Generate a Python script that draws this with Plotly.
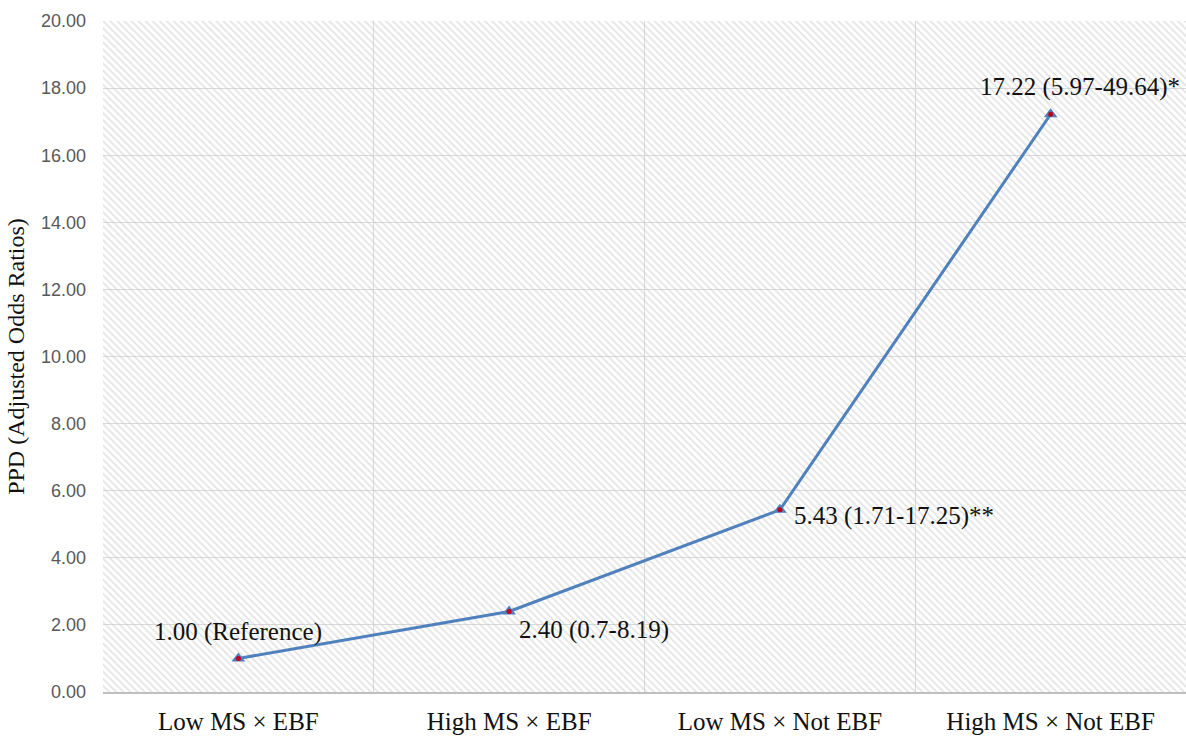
import plotly.graph_objects as go

categories = ["Low MS × EBF", "High MS × EBF", "Low MS × Not EBF", "High MS × Not EBF"]
odds_ratios = [1.00, 2.40, 5.43, 17.22]
labels = ["1.00 (Reference)", "2.40 (0.7-8.19)", "5.43 (1.71-17.25)**", "17.22 (5.97-49.64)*"]
y_max = 20
y_step = 2

xs = list(range(len(categories)))
serif = "Liberation Serif, Times New Roman, serif"

fig = go.Figure()

# hatched plot-area background
fig.add_trace(go.Bar(
    x=xs, y=[y_max] * len(xs), width=1,
    marker=dict(color="rgba(0,0,0,0)", line=dict(width=0),
                pattern=dict(shape="\\", fgcolor="#cacaca", bgcolor="rgba(0,0,0,0)",
                             size=5, solidity=0.35)),
    hoverinfo="skip", showlegend=False,
))

fig.add_trace(go.Scatter(
    x=xs, y=odds_ratios, mode="lines+markers",
    line=dict(color="#4F81BD", width=3),
    marker=dict(symbol="triangle-up", size=12, color="#4F81BD"),
    showlegend=False,
))
fig.add_trace(go.Scatter(
    x=xs, y=odds_ratios, mode="markers",
    marker=dict(symbol="circle", size=5, color="#C0001A"),
    showlegend=False, hoverinfo="skip",
))

# label placement per point
anchors = [("center", 0, 26), ("left", 8, -19), ("left", 12, -6), ("right", 131, 27)]
for x, y, t, (xa, dx, dy) in zip(xs, odds_ratios, labels, anchors):
    fig.add_annotation(x=x, y=y, text=t, showarrow=False, xanchor=xa, yanchor="middle",
                       xshift=dx, yshift=dy, font=dict(family=serif, size=25, color="#111111"))

fig.update_layout(
    width=1186, height=736,
    margin=dict(l=103, r=0, t=21, b=44),
    paper_bgcolor="white", plot_bgcolor="white",
    bargap=0,
)
fig.update_xaxes(
    automargin=False,
    range=[-0.5, len(categories) - 0.5],
    tickvals=xs, ticktext=categories,
    tickfont=dict(family=serif, size=25, color="#111111"),
    showgrid=False, zeroline=False,
    showline=True, linecolor="#bfbfbf", linewidth=1.5,
    ticks="outside", ticklen=6, tickcolor="rgba(0,0,0,0)",
    minor=dict(tick0=0.5, dtick=1, showgrid=True, gridcolor="#d9d9d9", gridwidth=1),
)
fig.update_yaxes(
    automargin=False,
    range=[0, y_max], dtick=y_step, tick0=0, tickformat=".2f",
    tickfont=dict(family="Liberation Sans, Arial, sans-serif", size=18, color="#595959"),
    gridcolor="#d9d9d9", gridwidth=1, zeroline=False,
    ticklabelstandoff=16,
    title=dict(text="PPD (Adjusted Odds Ratios)", font=dict(family=serif, size=24, color="#111111"),
               standoff=9),
)

fig.write_html("out.html", config={"displayModeBar": False},
               post_script="document.body.style.margin='0';")
